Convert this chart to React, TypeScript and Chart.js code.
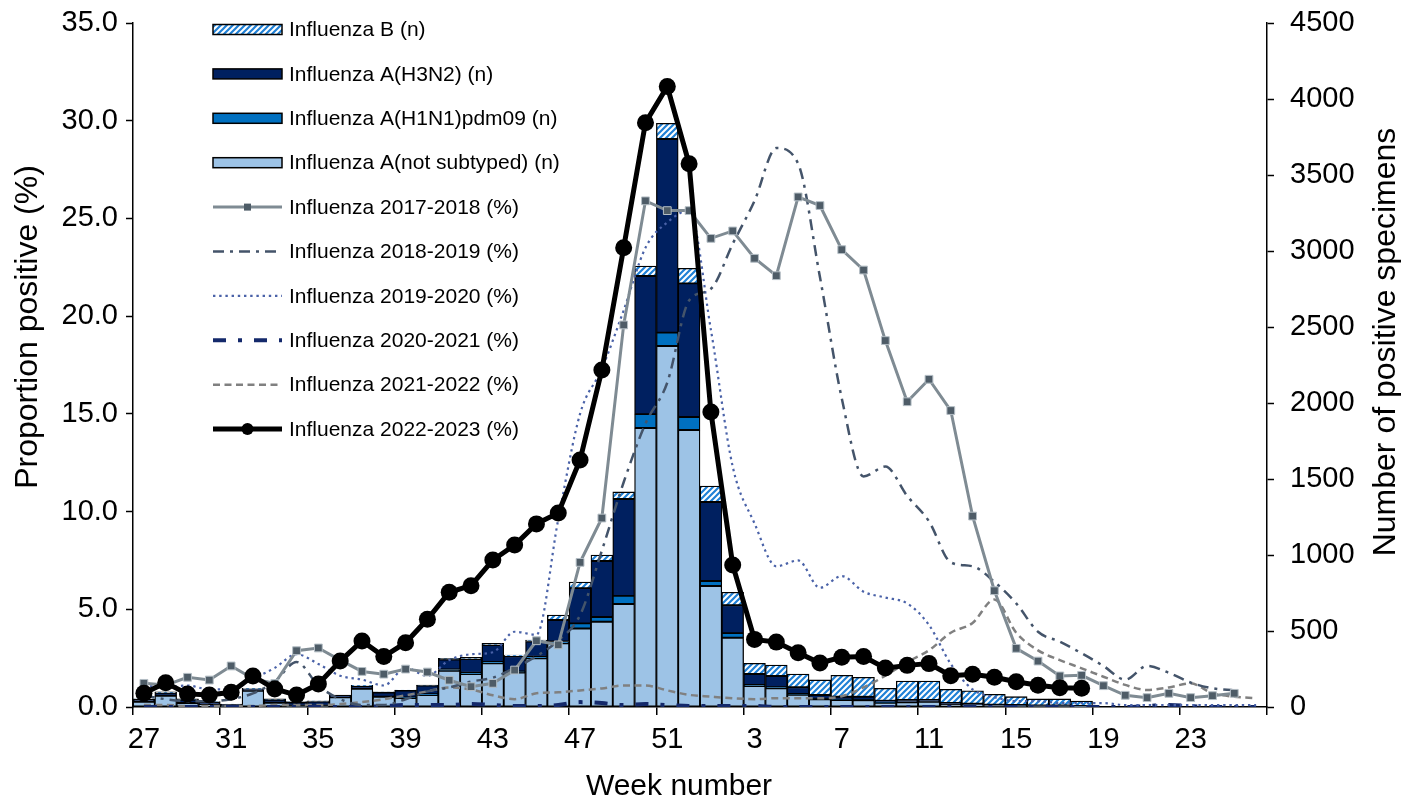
import React, { useEffect, useRef } from "react";
import { Chart, registerables } from "chart.js";

Chart.register(...registerables);

const FONT = '"Liberation Sans", Arial, Helvetica, sans-serif';

// ---------- data ----------
const weekLabels = [
  "27", "28", "29", "30", "31", "32", "33", "34", "35", "36", "37", "38", "39",
  "40", "41", "42", "43", "44", "45", "46", "47", "48", "49", "50", "51", "52",
  "1", "2", "3", "4", "5", "6", "7", "8", "9", "10", "11", "12", "13",
  "14", "15", "16", "17", "18", "19", "20", "21", "22", "23", "24", "25", "26",
];

const notSubtyped = [
  35, 74, 26, 15, 8, 107, 28, 8, 8, 64,
  120, 68, 59, 79, 239, 217, 287, 226, 320, 419,
  517, 561, 678, 1835, 2375, 1822,
  796, 456, 138, 123, 81, 51, 46, 45, 28, 31,
  34, 16, 14, 10, 9, 7, 7, 5,
  null, null, null, null, null, null, null, null,
];
const h1n1 = [
  0, 0, 0, 0, 0, 0, 0, 0, 0, 0,
  0, 0, 4, 5, 8, 8, 10, 8, 10, 12,
  33, 31, 53, 92, 88, 86,
  33, 30, 7, 7, 5, 2, 2, 2, 1, 0,
  0, 0, 0, 0, 0, 0, 0, 0,
  null, null, null, null, null, null, null, null,
];
const h3n2 = [
  15, 20, 22, 17, 10, 12, 20, 22, 28, 12,
  18, 28, 46, 57, 65, 90, 110, 100, 101, 141,
  232, 368, 638, 908, 1274, 879,
  520, 184, 72, 74, 44, 26, 20, 20, 12, 15,
  12, 10, 8, 5, 4, 3, 3, 2,
  null, null, null, null, null, null, null, null,
];
const fluB = [
  3, 5, 5, 3, 2, 4, 5, 5, 5, 3,
  5, 3, 3, 4, 8, 12, 12, 8, 10, 33,
  40, 40, 46, 66, 103, 99,
  105, 85, 70, 72, 87, 99, 140, 128, 82, 125,
  125, 90, 85, 68, 55, 43, 43, 32,
  null, null, null, null, null, null, null, null,
];

const season2017 = [
  1.21, 1.12, 1.52, 1.38, 2.1, 1.45, 1.2, 2.88, 3.02, 2.4,
  1.82, 1.68, 1.94, 1.79, 1.37, 1.04, 1.21, 1.89, 3.39, 3.18,
  7.4, 9.67, 19.55, 25.9, 25.4, 25.4,
  23.98, 24.36, 22.96, 22.07, 26.1, 25.66, 23.4, 22.36, 18.75, 15.62,
  16.77, 15.17, 9.77, 5.95, 3.0, 2.35, 1.59, 1.62, 1.09, 0.6,
  0.48, 0.7, 0.48, 0.58, 0.7, null,
];
const season2018 = [
  0.6, 0.4, 0.3, 0.3, 0.4, 0.7, 1.3, 2.3, 1.1, 0.4,
  0.1, 0.1, 0.4, 0.8, 1.0, 1.3, 1.5, 2.0, 2.6, 3.4,
  4.7, 8.0, 11.5, 14.5, 16.6, 20.8,
  21.4, 23.7, 25.9, 28.6, 27.8, 22.0, 15.8, 11.8, 12.3, 10.8,
  9.5, 7.4, 7.2, 6.4, 5.3, 3.85, 3.34, 2.75, 2.1, 1.4,
  2.1, 1.75, 1.25, 0.96, 0.85, null,
];
const season2019 = [
  1.1, 1.0, 1.1, 0.9, 0.9, 1.45, 2.0, 2.7, 2.2, 1.6,
  1.4, 1.1, 2.0, 1.6, 2.4, 2.7, 2.8, 3.85, 3.7, 9.6,
  15.0, 17.3, 20.3, 23.5, 24.8, 25.4,
  19.3, 12.3, 9.4, 7.2, 7.5, 6.1, 6.7, 5.9, 5.6, 5.3,
  4.2, 2.2, 0.9, 0.5, 0.3, 0.3, 0.2, 0.2, 0.2, 0.1,
  0.1, 0.1, 0.1, 0.1, 0.1, 0.1,
];
const season2020 = [
  0.0, 0.0, 0.0, 0.0, 0.0, 0.0, 0.0, 0.0, 0.0, 0.0,
  0.0, 0.05, 0.1, 0.1, 0.1, 0.15, 0.1, 0.05, 0.05, 0.1,
  0.25, 0.2, 0.1, 0.15, 0.1, 0.05,
  0.05, 0.05, 0.05, 0.0, 0.0, 0.0, 0.0, 0.0, 0.0, 0.0,
  0.0, 0.0, 0.0, 0.0, 0.0, 0.0, 0.0, 0.0, 0.0, 0.0,
  0.05, 0.1, 0.05, 0.0, 0.0, 0.0,
];
const season2021 = [
  0.1, 0.1, 0.05, 0.05, 0.05, 0.05, 0.1, 0.1, 0.1, 0.15,
  0.25, 0.4, 0.6, 0.8, 1.0, 0.9, 0.6, 0.4, 0.7, 0.75,
  0.85, 0.95, 1.1, 1.1, 0.85, 0.62,
  0.53, 0.45, 0.4, 0.45, 0.45, 0.45, 0.55, 1.0, 1.6, 2.3,
  2.9, 3.8, 4.3, 5.5, 3.8, 2.9, 2.4, 1.98, 1.55, 1.13,
  0.87, 1.0, 1.21, 0.7, 0.53, 0.45,
];
const season2022 = [
  0.7, 1.24, 0.67, 0.61, 0.75, 1.59, 0.92, 0.61, 1.18, 2.35,
  3.38, 2.58, 3.29, 4.49, 5.87, 6.21, 7.52, 8.29, 9.37, 9.93,
  12.64, 17.25, 23.5, 29.9, 31.75, 27.8,
  15.1, 7.27, 3.46, 3.32, 2.78, 2.25, 2.55, 2.58, 1.99, 2.13,
  2.22, 1.6, 1.67, 1.52, 1.29, 1.11, 0.99, 0.96,
  null, null, null, null, null, null, null, null,
];

const leftTicks = [0, 5, 10, 15, 20, 25, 30, 35];
const rightTicks = [0, 500, 1000, 1500, 2000, 2500, 3000, 3500, 4000, 4500];

const X_TITLE = "Week number";
const Y_LEFT_TITLE = "Proportion positive (%)";
const Y_RIGHT_TITLE = "Number of positive specimens";

const legendOrder = [
  "Influenza B (n)",
  "Influenza A(H3N2) (n)",
  "Influenza A(H1N1)pdm09 (n)",
  "Influenza A(not subtyped) (n)",
  "Influenza 2017-2018 (%)",
  "Influenza 2018-2019 (%)",
  "Influenza 2019-2020 (%)",
  "Influenza 2020-2021 (%)",
  "Influenza 2021-2022 (%)",
  "Influenza 2022-2023 (%)",
];

function makeHatch(): CanvasPattern | string {
  const c = document.createElement("canvas");
  c.width = 6;
  c.height = 6;
  const g = c.getContext("2d");
  if (!g) return "#2a86d8";
  g.fillStyle = "#ffffff";
  g.fillRect(0, 0, 6, 6);
  g.strokeStyle = "#1f80d6";
  g.lineWidth = 2.2;
  g.beginPath();
  g.moveTo(-1, 7);
  g.lineTo(7, -1);
  g.moveTo(-1, 1);
  g.lineTo(1, -1);
  g.moveTo(5, 7);
  g.lineTo(7, 5);
  g.stroke();
  return g.createPattern(c, "repeat") || "#2a86d8";
}

const overlayPlugin = {
  id: "overlayTitlesLegend",
  afterDraw(chart: any) {
    const ctx: CanvasRenderingContext2D = chart.ctx;
    ctx.save();
    ctx.fillStyle = "#000";
    ctx.textAlign = "center";
    ctx.textBaseline = "middle";
    ctx.font = `32px ${FONT}`;
    ctx.save();
    ctx.translate(28, 327);
    ctx.rotate(-Math.PI / 2);
    ctx.fillText(Y_LEFT_TITLE, 0, 0);
    ctx.restore();
    ctx.save();
    ctx.translate(1386, 342);
    ctx.rotate(-Math.PI / 2);
    ctx.fillText(Y_RIGHT_TITLE, 0, 0);
    ctx.restore();
    ctx.font = `30px ${FONT}`;
    ctx.textBaseline = "alphabetic";
    ctx.fillText(X_TITLE, 679, 795);

    const x0 = 213;
    const x1 = 282;
    const tx = 289;
    legendOrder.forEach((label, i) => {
      const y = 29.5 + 44.4 * i;
      const ds = chart.data.datasets.find((d: any) => d.label === label);
      if (!ds) return;
      ctx.save();
      if (ds.type === "line") {
        ctx.strokeStyle = ds.borderColor;
        ctx.lineWidth = ds.borderWidth;
        ctx.lineCap = "butt";
        ctx.setLineDash(ds.borderDash || []);
        ctx.beginPath();
        ctx.moveTo(x0, y);
        ctx.lineTo(x1, y);
        ctx.stroke();
        ctx.setLineDash([]);
        const mx = (x0 + x1) / 2;
        if (ds.pointStyle === "rect" && ds.pointRadius > 0) {
          ctx.fillStyle = ds.pointBackgroundColor;
          ctx.fillRect(mx - 3.5, y - 3.5, 7, 7);
        } else if (ds.pointRadius > 0) {
          ctx.fillStyle = ds.pointBackgroundColor;
          ctx.beginPath();
          ctx.arc(mx, y, 6, 0, Math.PI * 2);
          ctx.fill();
        }
      } else {
        ctx.fillStyle = ds.backgroundColor;
        ctx.fillRect(x0, y - 5, x1 - x0, 10);
        ctx.strokeStyle = "#000";
        ctx.lineWidth = 1.5;
        ctx.strokeRect(x0, y - 5, x1 - x0, 10);
      }
      ctx.restore();
      ctx.fillStyle = "#000";
      ctx.font = `21px ${FONT}`;
      ctx.textAlign = "left";
      ctx.textBaseline = "middle";
      ctx.fillText(label, tx, y + 1);
    });
    ctx.restore();
  },
};

export default function App() {
  const canvasRef = useRef<HTMLCanvasElement | null>(null);

  useEffect(() => {
    const canvas = canvasRef.current;
    if (!canvas) return;
    Chart.defaults.font.family = FONT;
    Chart.defaults.color = "#000";
    const hatch = makeHatch();

    const lineBase = {
      type: "line" as const,
      yAxisID: "yL",
      fill: false,
      spanGaps: false,
    };

    const barBase = {
      type: "bar" as const,
      yAxisID: "yR",
      stack: "flu",
      borderColor: "#000",
      borderWidth: 1.3,
      borderSkipped: false,
      barPercentage: 1,
      categoryPercentage: 1,
      order: 10,
    };

    const chart = new Chart(canvas, {
      type: "bar",
      data: {
        labels: weekLabels,
        datasets: [
          {
            ...lineBase,
            label: "Influenza 2022-2023 (%)",
            data: season2022,
            borderColor: "#000000",
            borderWidth: 5,
            pointRadius: 8.5,
            pointStyle: "circle",
            pointBackgroundColor: "#000000",
            pointBorderWidth: 0,
            tension: 0,
            order: 0,
          },
          {
            ...lineBase,
            label: "Influenza 2017-2018 (%)",
            data: season2017,
            borderColor: "#7f8b93",
            borderWidth: 3,
            pointRadius: 5.5,
            pointStyle: "rect",
            pointBackgroundColor: "#4e5c67",
            pointBorderColor: "#b4bec5",
            pointBorderWidth: 1,
            tension: 0,
            order: 1,
          },
          {
            ...lineBase,
            label: "Influenza 2018-2019 (%)",
            data: season2018,
            borderColor: "#44546a",
            borderWidth: 2.5,
            borderDash: [11, 6, 3, 6],
            pointRadius: 0,
            cubicInterpolationMode: "monotone",
            order: 2,
          },
          {
            ...lineBase,
            label: "Influenza 2019-2020 (%)",
            data: season2019,
            borderColor: "#4a62a8",
            borderWidth: 2.2,
            borderDash: [2.4, 3.8],
            pointRadius: 0,
            cubicInterpolationMode: "monotone",
            order: 3,
          },
          {
            ...lineBase,
            label: "Influenza 2020-2021 (%)",
            data: season2020,
            borderColor: "#14296b",
            borderWidth: 4,
            borderDash: [13, 12, 4, 12],
            pointRadius: 0,
            cubicInterpolationMode: "monotone",
            order: 4,
          },
          {
            ...lineBase,
            label: "Influenza 2021-2022 (%)",
            data: season2021,
            borderColor: "#808080",
            borderWidth: 2.5,
            borderDash: [7, 4.5],
            pointRadius: 0,
            cubicInterpolationMode: "monotone",
            order: 5,
          },
          {
            ...barBase,
            label: "Influenza A(not subtyped) (n)",
            data: notSubtyped,
            backgroundColor: "#9dc3e6",
          },
          {
            ...barBase,
            label: "Influenza A(H1N1)pdm09 (n)",
            data: h1n1,
            backgroundColor: "#0070c0",
          },
          {
            ...barBase,
            label: "Influenza A(H3N2) (n)",
            data: h3n2,
            backgroundColor: "#002060",
          },
          {
            ...barBase,
            label: "Influenza B (n)",
            data: fluB,
            backgroundColor: hatch as any,
          },
        ] as any,
      },
      options: {
        animation: false,
        responsive: false,
        devicePixelRatio: 1,
        events: [],
        layout: { padding: { top: 23, left: 0, right: 0, bottom: 0 } },
        plugins: {
          legend: { display: false },
          tooltip: { enabled: false },
          title: { display: false },
        },
        scales: {
          x: {
            type: "category",
            stacked: true,
            offset: true,
            grid: {
              offset: true,
              drawOnChartArea: false,
              drawTicks: true,
              tickLength: 8,
              tickWidth: 1.5,
              lineWidth: 1.5,
              tickColor: (c: any) =>
                c.index === undefined || c.index % 4 === 0 ? "#000" : "rgba(0,0,0,0)",
              color: "rgba(0,0,0,0)",
            },
            border: { display: true, color: "#000", width: 1.5 },
            ticks: {
              autoSkip: false,
              maxRotation: 0,
              minRotation: 0,
              padding: 8,
              color: "#000",
              font: { size: 29, family: FONT },
              callback: (_v: any, i: number) => (i % 4 === 0 ? weekLabels[i] : ""),
            },
            afterFit: (s: any) => {
              s.height = 94;
              s.paddingLeft = 0;
              s.paddingRight = 0;
            },
          },
          yL: {
            type: "linear",
            position: "left",
            min: leftTicks[0],
            max: leftTicks[leftTicks.length - 1],
            afterBuildTicks: (s: any) => {
              s.ticks = leftTicks.map((v) => ({ value: v }));
            },
            grid: {
              drawOnChartArea: false,
              tickLength: 7,
              tickWidth: 1.5,
              tickColor: "#000",
            },
            border: { display: true, color: "#000", width: 1.5 },
            ticks: {
              padding: 8,
              color: "#000",
              font: { size: 29, family: FONT },
              callback: (v: any) => Number(v).toFixed(1),
            },
            afterFit: (s: any) => {
              s.width = 133;
              s.paddingTop = 0;
              s.paddingBottom = 0;
            },
          },
          yR: {
            type: "linear",
            position: "right",
            stacked: true,
            min: rightTicks[0],
            max: rightTicks[rightTicks.length - 1],
            afterBuildTicks: (s: any) => {
              s.ticks = rightTicks.map((v) => ({ value: v }));
            },
            grid: {
              drawOnChartArea: false,
              tickLength: 7,
              tickWidth: 1.5,
              tickColor: "#000",
            },
            border: { display: true, color: "#000", width: 1.5 },
            ticks: {
              padding: 16,
              color: "#000",
              font: { size: 29, family: FONT },
              callback: (v: any) => String(v),
            },
            afterFit: (s: any) => {
              s.width = 134;
              s.paddingTop = 0;
              s.paddingBottom = 0;
            },
          },
        },
      } as any,
      plugins: [overlayPlugin],
    });

    return () => {
      chart.destroy();
    };
  }, []);

  return (
    <div style={{ position: "absolute", left: 0, top: 0, width: 1401, height: 801, background: "#fff" }}>
      <canvas ref={canvasRef} width={1401} height={801} style={{ display: "block", width: 1401, height: 801 }} />
    </div>
  );
}
